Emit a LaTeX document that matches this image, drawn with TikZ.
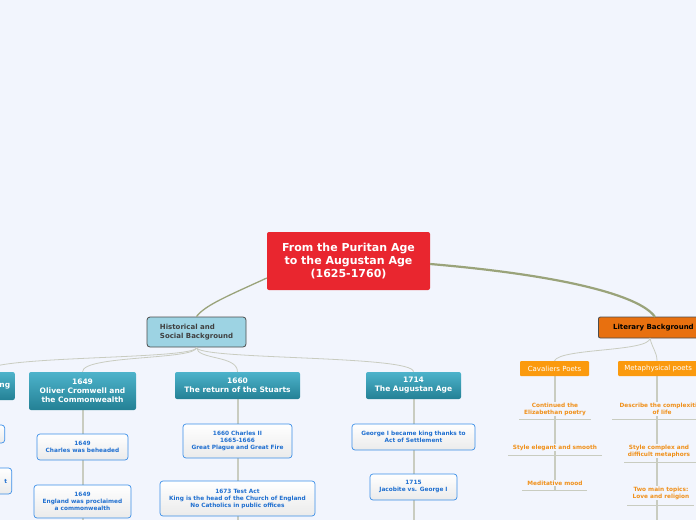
\documentclass[tikz,border=0pt]{standalone}
\usepackage{fontspec}
\setmainfont{DejaVu Sans}
\usetikzlibrary{shapes.misc}
\definecolor{bg}{HTML}{F2F5FD}
\definecolor{cred}{HTML}{E9262F}
\definecolor{hist}{HTML}{9DD3E3}
\definecolor{tealb}{HTML}{2A97AF}
\definecolor{tealtop}{HTML}{4DB3CB}
\definecolor{lit}{HTML}{E8700F}
\definecolor{cav}{HTML}{FB9A0E}
\definecolor{ctext}{HTML}{F0901A}
\definecolor{bblue}{HTML}{3B8EE8}
\definecolor{tblue}{HTML}{1F6FD0}
\definecolor{branch}{HTML}{9AA37A}
\definecolor{lgray}{HTML}{C9CCC0}
\tikzset{
 every node/.style={font=\bfseries, align=center, inner sep=0pt},
 rootbox/.style={rounded corners=2pt, fill=cred, text=white, font=\fontsize{11}{13}\selectfont\bfseries},
 histbox/.style={rounded corners=3pt, fill=hist, draw=black!70, line width=0.8pt, text=black!75, align=left, font=\fontsize{7}{8.5}\selectfont\bfseries},
 litbox/.style={rounded corners=2pt, fill=lit, draw=black!70, line width=0.8pt, text=black, font=\fontsize{7}{8.5}\selectfont\bfseries},
 tealbox/.style={rounded corners=2pt, top color=tealtop, bottom color=tealb!85!black, text=white, font=\fontsize{7.5}{9}\selectfont\bfseries},
 evbox/.style={rounded corners=3pt, draw=bblue, line width=0.7pt, top color=white, bottom color=black!8, text=tblue, font=\fontsize{5.8}{7}\selectfont\bfseries},
 orbox/.style={rounded corners=1pt, fill=cav, text=white, font=\fontsize{7}{8}\selectfont},
 ortext/.style={text=ctext, font=\fontsize{5.8}{7}\selectfont\bfseries},
 conn/.style={draw=lgray, line width=0.8pt},
 vline/.style={draw=lgray, line width=1.2pt},
 uline/.style={draw=lgray, line width=1pt},
}
\begin{document}
\begin{tikzpicture}[x=1pt,y=-1pt]
\useasboundingbox (0,0) rectangle (696,520);
\fill[bg] (0,0) rectangle (696,520);
\clip (0,0) rectangle (696,520);
% vertical trunk lines
\draw[vline] (238,399) -- (238,520);
\draw[vline] (83,410) -- (83,520);
\draw[vline] (414,399) -- (414,520);
\draw[vline] (555,376) -- (555,490);
\draw[vline] (657,376) -- (657,520);
% main nodes
\node[rootbox, minimum width=163, minimum height=58] (root) at (348.5,261) {From the Puritan Age\\to the Augustan Age\\(1625-1760)};
\node[histbox, minimum width=99, minimum height=30] (hist) at (196.5,332) {Historical and\\Social Background};
\node[litbox, minimum width=110, minimum height=21, anchor=west] (lit) at (598,327.5) {Literary Background};
\draw[branch, line width=1.3pt] (root.west|-0,278) .. controls (230,295) and (205,305) .. (hist.north);
\draw[branch, line width=2.2pt] (root.east|-0,264) .. controls (560,275) and (640,295) .. (655,317);
% teal nodes
\node[tealbox, minimum width=60, minimum height=28, anchor=east] (t0) at (15,386) {\hspace*{40pt}ng};
\node[tealbox, minimum width=107, minimum height=38] (t1) at (82.5,391) {1649\\Oliver Cromwell and\\the Commonwealth};
\node[tealbox, minimum width=125, minimum height=27] (t2) at (237.5,385.5) {1660\\The return of the Stuarts};
\node[tealbox, minimum width=95, minimum height=27] (t3) at (413.5,385.5) {1714\\The Augustan Age};
\foreach \nd in {t0,t1,t2,t3}
  \draw[conn] (hist.south) .. controls (197,360) and (\nd.north|-0,355) .. (\nd.north);
% event boxes
\node[evbox, minimum width=40, minimum height=18, anchor=east] (l1) at (5,434) {};
\node[evbox, minimum width=50, minimum height=26, anchor=east] (l2) at (12,481) {\hspace*{38pt}t};
\node[evbox, minimum width=91, minimum height=26] (e1) at (82.5,447) {1649\\Charles was beheaded};
\node[evbox, minimum width=97, minimum height=33] (e2) at (82.5,501.5) {1649\\England was proclaimed\\a commonwealth};
\node[evbox, minimum width=109, minimum height=34] (e3) at (237.5,441) {1660 Charles II\\1665-1666\\Great Plague and Great Fire};
\node[evbox, minimum width=155, minimum height=35] (e4) at (237.5,498.5) {1673 Test Act\\King is the head of the Church of England\\No Catholics in public offices};
\node[evbox, minimum width=123, minimum height=26] (e5) at (413.5,437) {George I became king thanks to\\Act of Settlement};
\node[evbox, minimum width=87, minimum height=26] (e6) at (413.5,487) {1715\\Jacobite vs. George I};
% literary
\node[orbox, minimum width=69, minimum height=15] (cav) at (554.5,368.5) {Cavaliers Poets};
\node[orbox, minimum width=80, minimum height=15, anchor=west] (met) at (618,368.5) {Metaphysical poets};
\draw[conn] (650,338) .. controls (650,352) and (560,348) .. (cav.north);
\draw[conn] (650,338) .. controls (652,348) and (657,352) .. (met.north-|657,0);
\node[ortext, fill=bg, inner sep=1pt] (c1) at (555,409) {Continued the\\Elizabethan poetry};
\draw[uline] (519,419) -- (591,419);
\node[ortext, fill=bg, inner sep=1pt] (c2) at (555,447.5) {Style elegant and smooth};
\draw[uline] (508,455) -- (602,455);
\node[ortext, fill=bg, inner sep=1pt] (c3) at (555,483) {Meditative mood};
\draw[uline] (522,490) -- (587,490);
\node[ortext, fill=bg, inner sep=1pt] (m1) at (662,409) {Describe the complexities\\of life};
\draw[uline] (612,419) -- (696,419);
\node[ortext, fill=bg, inner sep=1pt] (m2) at (659,451) {Style complex and\\difficult metaphors};
\draw[uline] (624,462) -- (696,462);
\node[ortext, fill=bg, inner sep=1pt] (m3) at (661,493) {Two main topics:\\Love and religion};
\draw[uline] (627,505) -- (694,505);
\end{tikzpicture}
\end{document}
